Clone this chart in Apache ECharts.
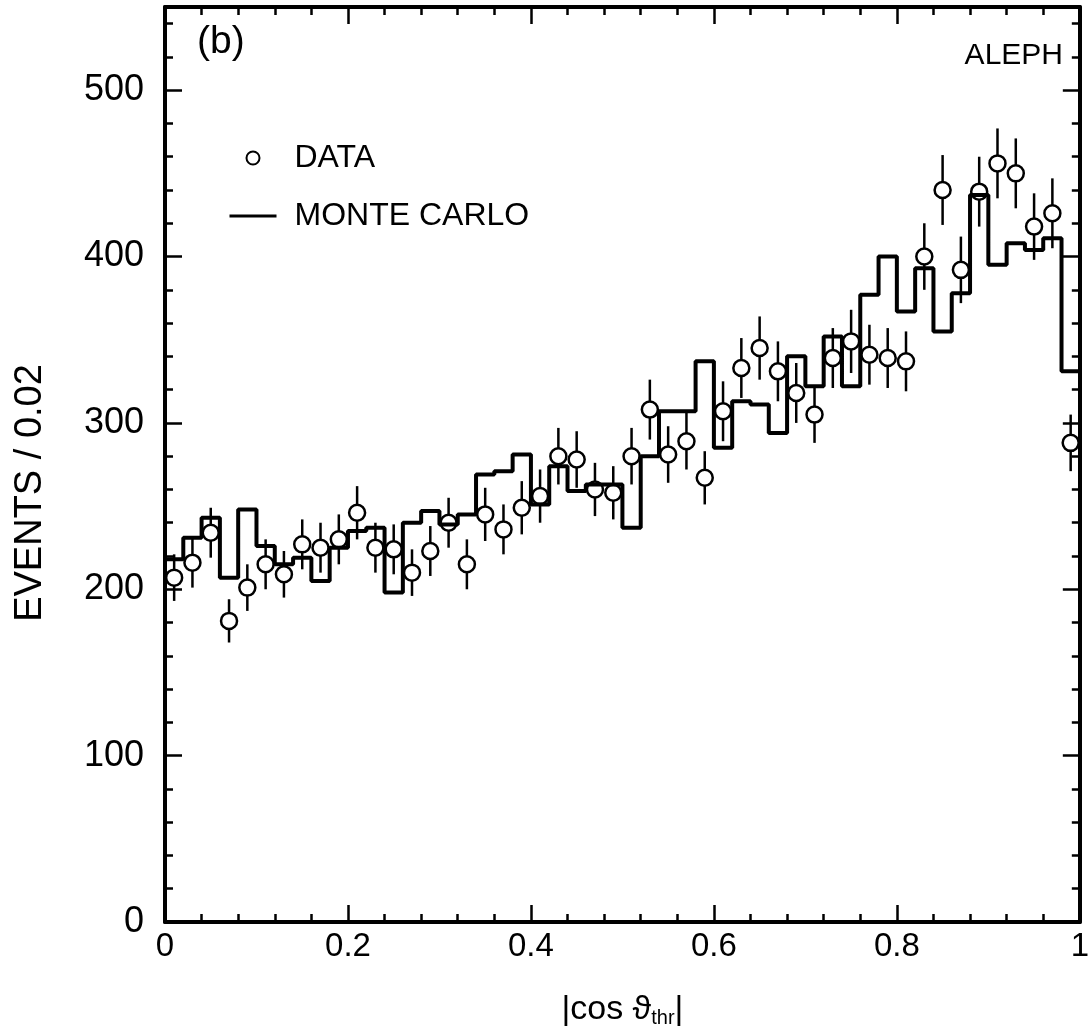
<!DOCTYPE html>
<html><head><meta charset="utf-8">
<script src="https://cdn.jsdelivr.net/npm/echarts@6/dist/echarts.min.js"></script>
<style>html,body{margin:0;padding:0;background:#fff}#c{width:1092px;height:1036px}</style>
</head><body><div id="c"></div>
<script>
// ---- data ----
const binWidth = 0.02;
const dataValues = [207,216,234,181,201,215,209,227,225,230,
                    246,225,224,210,223,240,215,245,236,249,
                    256,280,278,260,258,280,308,281,289,267,
                    307,333,345,331,318,305,339,349,341,339,
                    337,400,440,392,439,456,450,418,426,288];
const dataErrors = [14,15,15,13,14,15,14,15,15,15,
                    16,15,15,14,15,15,15,16,15,16,
                    16,17,17,16,16,17,18,17,17,16,
                    18,18,19,18,18,17,18,19,18,18,
                    18,20,21,20,21,21,21,20,21,17];
const mcValues = [218,231,243,207,248,226,215,219,205,225,
                  235,237,198,240,247,239,245,269,271,281,
                  251,274,259,263,263,237,280,307,307,337,
                  285,313,311,294,340,322,352,322,377,400,
                  367,393,355,378,437,395,408,404,411,331];
const xLabels = ['0','0.2','0.4','0.6','0.8','1'];
const yLabels = ['0','100','200','300','400','500'];

const FONT = '"Liberation Sans", Arial, Helvetica, "DejaVu Sans", sans-serif';
const dataPoints = dataValues.map((v, i) => [binWidth * (i + 0.5), v, dataErrors[i]]);
const mcStep = mcValues.map((v, i) => [binWidth * i, v]);
mcStep.push([binWidth * mcValues.length, mcValues[mcValues.length - 1]]);

const black = '#000';
function xAx(pos, major, showLine) {
  return {
    type: 'value', min: 0, max: 1, interval: major ? 0.2 : 0.04, position: pos,
    axisLine: {show: showLine, onZero: false, lineStyle: {color: black, width: 4}},
    axisTick: {show: true, inside: true, length: major ? 17 : 8, lineStyle: {color: black, width: 2.5}},
    axisLabel: {show: major && pos === 'bottom', color: black, fontSize: 33, fontFamily: FONT, margin: 8,
                formatter: v => xLabels[Math.round(v / 0.2)]},
    splitLine: {show: false}
  };
}
function yAx(pos, major, showLine) {
  return {
    type: 'value', min: 0, max: 550, interval: major ? 100 : 20, position: pos,
    axisLine: {show: showLine, onZero: false, lineStyle: {color: black, width: 4}},
    axisTick: {show: true, inside: true, length: major ? 17 : 8, lineStyle: {color: black, width: 2.5}},
    axisLabel: {show: major && pos === 'left', color: black, fontSize: 36, fontFamily: FONT, margin: 21,
                formatter: v => (v % 100 === 0 && v <= 500) ? yLabels[v / 100] : ''},
    splitLine: {show: false}
  };
}

const xMain = xAx('bottom', true, true);
xMain.name = '|cos ϑ{s|thr}|';
xMain.nameLocation = 'middle';
xMain.nameGap = 70;
xMain.nameTextStyle = {color: black, fontSize: 34, fontFamily: FONT,
  rich: {s: {fontSize: 20, fontFamily: FONT, color: black, verticalAlign: 'bottom', padding: [16, 0, 0, 0]}}};

const chart = echarts.init(document.getElementById('c'), null, {renderer: 'canvas'});
chart.setOption({
  backgroundColor: '#fff',
  animation: false,
  grid: {left: 165, right: 7, top: 7, bottom: 114, containLabel: false},
  xAxis: [xMain, xAx('bottom', false, false), xAx('top', true, true), xAx('top', false, false)],
  yAxis: [yAx('left', true, true), yAx('left', false, false), yAx('right', true, true), yAx('right', false, false)],
  legend: {
    orient: 'vertical', left: 223, top: 137, itemWidth: 47, itemHeight: 13, itemGap: 26,
    selectedMode: false,
    textStyle: {color: black, fontSize: 32, fontFamily: FONT, padding: [0, 0, 0, 13]},
    data: [
      {name: 'DATA', icon: 'circle', itemStyle: {color: '#fff', borderColor: black, borderWidth: 2}},
      {name: 'MONTE CARLO', lineStyle: {width: 3, color: black},
       itemStyle: {color: 'rgba(0,0,0,0)', borderWidth: 0, opacity: 0}}
    ]
  },
  graphic: [
    {type: 'text', left: 197, top: 23, style: {text: '(b)', fontSize: 39, fontFamily: FONT, fill: black}},
    {type: 'text', right: 29, top: 41, style: {text: 'ALEPH', fontSize: 30, fontFamily: FONT, fill: black}},
    {type: 'text', x: 31, y: 493, rotation: Math.PI / 2,
     style: {text: 'EVENTS / 0.02', fontSize: 38, fontFamily: FONT, fill: black, align: 'center', verticalAlign: 'middle'}}
  ],
  series: [
    {
      type: 'custom', name: 'errors', xAxisIndex: 0, yAxisIndex: 0, z: 2, silent: true,
      data: dataPoints, encode: {x: 0, y: 1},
      renderItem: (params, api) => {
        const x = api.value(0), y = api.value(1), e = api.value(2);
        const p1 = api.coord([x, y - e]), p2 = api.coord([x, y + e]);
        return {type: 'line', shape: {x1: p1[0], y1: p1[1], x2: p2[0], y2: p2[1]},
                style: {stroke: black, lineWidth: 2.5}};
      }
    },
    {
      type: 'scatter', name: 'DATA', xAxisIndex: 0, yAxisIndex: 0, z: 3,
      data: dataPoints.map(d => [d[0], d[1]]), symbol: 'circle', symbolSize: 16,
      itemStyle: {color: '#fff', borderColor: black, borderWidth: 2.5, opacity: 1}
    },
    {
      type: 'line', name: 'MONTE CARLO', xAxisIndex: 0, yAxisIndex: 0, z: 4,
      data: mcStep, step: 'end', symbol: 'none', showSymbol: false,
      itemStyle: {color: black},
      lineStyle: {color: black, width: 4}
    }
  ]
});
</script></body></html>
